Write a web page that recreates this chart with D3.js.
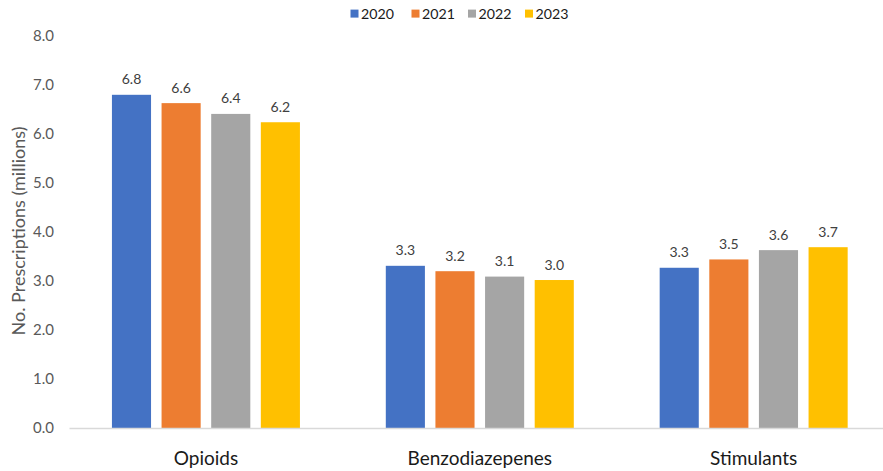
<!DOCTYPE html>
<html><head><meta charset="utf-8">
<script src="https://cdn.jsdelivr.net/npm/d3@7"></script>
<style>body{margin:0;background:#fff;} svg{display:block;font-family:Lato, "Open Sans", sans-serif;}</style>
</head><body><svg id="c" width="883" height="471"></svg>
<script>
const categories = ["Opioids", "Benzodiazepenes", "Stimulants"];
const years = ["2020", "2021", "2022", "2023"];
const values2020 = [6.80, 3.31, 3.27];
const values2021 = [6.63, 3.20, 3.44];
const values2022 = [6.41, 3.09, 3.63];
const values2023 = [6.24, 3.02, 3.69];
const labels2020 = ["6.8", "3.3", "3.3"];
const labels2021 = ["6.6", "3.2", "3.5"];
const labels2022 = ["6.4", "3.1", "3.6"];
const labels2023 = ["6.2", "3.0", "3.7"];
const yTicks = [0, 1, 2, 3, 4, 5, 6, 7, 8];
const colors = ["#4472C4", "#ED7D31", "#A5A5A5", "#FFC000"];

const series = [values2020, values2021, values2022, values2023];
const labels = [labels2020, labels2021, labels2022, labels2023];

const svg = d3.select("#c");
const y = d3.scaleLinear().domain([0, 8]).range([428, 36]);
const x0 = d3.scaleBand().domain(categories).range([69, 890.6]).paddingInner(0).paddingOuter(0);
const groupW = 188;
const x1 = d3.scaleBand().domain(years).range([0, groupW]).paddingInner(0.212).paddingOuter(0);

// y axis labels
const yAxis = d3.axisLeft(y).tickValues(yTicks).tickFormat(d3.format(".1f")).tickSize(0).tickPadding(0);
const ga = svg.append("g").attr("transform", "translate(54,0)").call(yAxis);
ga.select(".domain").remove();
ga.selectAll("text").attr("fill", "#595959").attr("font-size", 15).attr("font-family", "Lato, sans-serif");

// bars
const data = [];
categories.forEach((c, i) => years.forEach((yr, j) => data.push({c, yr, j, v: series[j][i], lab: labels[j][i]})));
const gx = d => x0(d.c) + (x0.bandwidth() - groupW) / 2 + x1(d.yr);
svg.append("g").selectAll("rect").data(data).join("rect")
  .attr("x", gx).attr("width", x1.bandwidth())
  .attr("y", d => y(d.v)).attr("height", d => y(0) - y(d.v))
  .attr("fill", d => colors[d.j]);

svg.append("g").selectAll("text").data(data).join("text")
  .attr("x", d => gx(d) + x1.bandwidth() / 2).attr("y", d => y(d.v) - 10.5)
  .attr("text-anchor", "middle").attr("font-size", 14).attr("fill", "#404040").text(d => d.lab);

// x axis
const xAxis = d3.axisBottom(x0).tickSize(0).tickPadding(23.5);
const gxa = svg.append("g").attr("transform", "translate(0,428)").call(xAxis);
gxa.select(".domain").attr("stroke", "#D9D9D9").attr("stroke-width", 1.3);
gxa.selectAll("text").attr("fill", "#1a1a1a").attr("font-size", 19).attr("font-family", "Lato, sans-serif");

// y title
svg.append("text").attr("transform", "translate(25,231) rotate(-90)")
  .attr("text-anchor", "middle").attr("font-size", 18).attr("fill", "#595959").text("No. Prescriptions (millions)");

// legend
const legX = [350.5, 411.5, 468, 525];
const lg = svg.append("g").selectAll("g").data(years).join("g")
  .attr("transform", (d, i) => `translate(${legX[i]},13.6)`);
lg.append("rect").attr("x", 0).attr("y", -4).attr("width", 8).attr("height", 8).attr("fill", (d, i) => colors[i]);
lg.append("text").attr("x", 10.5).attr("y", 0).attr("dy", "0.35em").attr("font-size", 14.2).attr("fill", "#1a1a1a").text(d => d);
</script></body></html>
